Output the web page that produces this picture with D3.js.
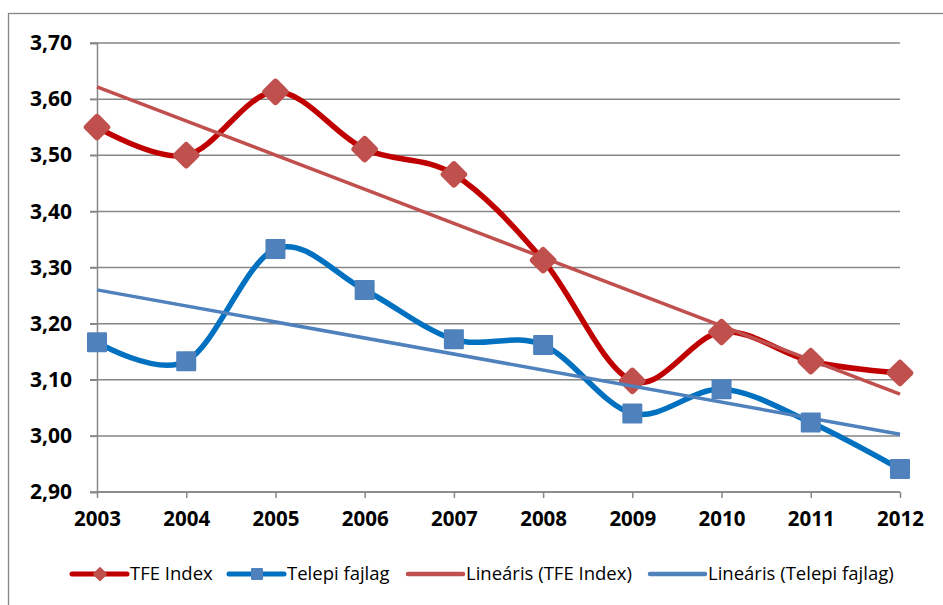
<!DOCTYPE html>
<html>
<head>
<meta charset="utf-8">
<script src="https://cdn.jsdelivr.net/npm/d3@7"></script>
<style>
  html, body { margin: 0; padding: 0; background: #fff; }
  svg { display: block; }
</style>
</head>
<body>
<svg id="chart" width="943" height="605"></svg>
<script>
// data
const years = ["2003", "2004", "2005", "2006", "2007", "2008", "2009", "2010", "2011", "2012"];
const tfeIndex = [3.55, 3.50, 3.613, 3.511, 3.466, 3.313, 3.098, 3.185, 3.133, 3.112];
const telepiFajlag = [3.167, 3.133, 3.333, 3.26, 3.172, 3.162, 3.04, 3.083, 3.024, 2.941];
const yTicks = [2.9, 3.0, 3.1, 3.2, 3.3, 3.4, 3.5, 3.6, 3.7];
const legendLabels = ["TFE Index", "Telepi fajlag", "Lineáris (TFE Index)", "Lineáris (Telepi fajlag)"];

const gridColor = "#868686";
const font = "'Open Sans', 'Liberation Sans', sans-serif";

const svg = d3.select("#chart");

// chart frame (runs off the right and bottom edge like the screenshot)
svg.append("rect")
  .attr("x", 8.5).attr("y", 13.5)
  .attr("width", 1000).attr("height", 700)
  .attr("fill", "none")
  .attr("stroke", gridColor)
  .attr("stroke-width", 1.3);

const x = d3.scalePoint().domain(years).range([97, 900]);
const y = d3.scaleLinear().domain([2.9, 3.7]).range([492, 43]);

// gridlines
svg.append("g")
  .selectAll("line")
  .data(yTicks)
  .enter()
  .append("line")
  .attr("x1", 90).attr("x2", 900)
  .attr("y1", d => y(d)).attr("y2", d => y(d))
  .attr("stroke", gridColor)
  .attr("stroke-width", 1.5);

// y axis
const yAxis = svg.append("g")
  .attr("transform", "translate(97,0)")
  .call(d3.axisLeft(y).tickValues(yTicks).tickSize(7).tickPadding(18)
    .tickFormat(d => d3.format(".2f")(d).replace(".", ",")));
yAxis.select(".domain").attr("stroke", gridColor).attr("stroke-width", 1.5);
yAxis.selectAll(".tick line").attr("stroke", gridColor).attr("stroke-width", 1.5);
yAxis.selectAll("text")
  .attr("font-family", font).attr("font-weight", "bold")
  .attr("font-size", "21px").attr("fill", "#000");

// x axis
const xAxis = svg.append("g")
  .attr("transform", "translate(0,492)")
  .call(d3.axisBottom(x).tickSize(6).tickPadding(13));
xAxis.select(".domain").attr("stroke", gridColor).attr("stroke-width", 1.5)
  .attr("d", "M97,0H900");
xAxis.selectAll(".tick line").attr("stroke", gridColor).attr("stroke-width", 1.5);
xAxis.selectAll("text")
  .attr("font-family", font).attr("font-weight", "bold")
  .attr("font-size", "20.5px").attr("fill", "#000");

// linear trend (least squares), like Excel's trendline
function trend(values) {
  const n = values.length;
  const mx = (n - 1) / 2;
  const my = d3.mean(values);
  let num = 0, den = 0;
  values.forEach((v, i) => { num += (i - mx) * (v - my); den += (i - mx) * (i - mx); });
  const b = num / den;
  const a = my - b * mx;
  return [[0, a], [n - 1, a + b * (n - 1)]];
}

const smooth = d3.line()
  .curve(d3.curveCatmullRom.alpha(0))
  .x((d, i) => x(years[i]))
  .y(d => y(d));

const series = [
  { values: tfeIndex, line: "#C00000", marker: "#C0504D", trend: "#C0504D", shape: "diamond" },
  { values: telepiFajlag, line: "#0070C0", marker: "#4F81BD", trend: "#4F81BD", shape: "square" }
];

// smoothed data lines
svg.append("g")
  .selectAll("path")
  .data(series)
  .enter()
  .append("path")
  .attr("d", s => smooth(s.values))
  .attr("fill", "none")
  .attr("stroke", s => s.line)
  .attr("stroke-width", 5.5)
  .attr("stroke-linecap", "round");

// markers
function drawMarker(g, shape, color, size) {
  if (shape === "diamond") {
    const side = size / Math.SQRT2;
    g.append("rect")
      .attr("x", -side / 2).attr("y", -side / 2)
      .attr("width", side).attr("height", side)
      .attr("rx", side * 0.15)
      .attr("transform", "rotate(45)")
      .attr("fill", color);
  } else {
    g.append("rect")
      .attr("x", -size / 2).attr("y", -size / 2)
      .attr("width", size).attr("height", size)
      .attr("rx", 1)
      .attr("fill", color);
  }
}

series.forEach(s => {
  s.values.forEach((v, i) => {
    const g = svg.append("g").attr("transform", `translate(${x(years[i])},${y(v)})`);
    drawMarker(g, s.shape, s.marker, s.shape === "diamond" ? 29 : 20);
  });
});

// trendlines
svg.append("g")
  .selectAll("line")
  .data(series)
  .enter()
  .append("line")
  .each(function (s) {
    const [p0, p1] = trend(s.values);
    d3.select(this)
      .attr("x1", x(years[p0[0]])).attr("y1", y(p0[1]))
      .attr("x2", x(years[p1[0]])).attr("y2", y(p1[1]));
  })
  .attr("stroke", s => s.trend)
  .attr("stroke-width", 3.5);

// legend
const legendItems = [
  { label: legendLabels[0], x: 72, color: "#C00000", marker: "#C0504D", shape: "diamond" },
  { label: legendLabels[1], x: 229, color: "#0070C0", marker: "#4F81BD", shape: "square" },
  { label: legendLabels[2], x: 408, color: "#C0504D", marker: null },
  { label: legendLabels[3], x: 650, color: "#4F81BD", marker: null }
];
const legendY = 574;
const legend = svg.append("g");
legendItems.forEach(d => {
  const g = legend.append("g").attr("transform", `translate(${d.x},${legendY})`);
  g.append("line")
    .attr("x1", 0).attr("x2", 55)
    .attr("stroke", d.color)
    .attr("stroke-width", d.marker ? 5 : 4.5)
    .attr("stroke-linecap", "round");
  if (d.marker) {
    const m = g.append("g").attr("transform", "translate(28,0)");
    drawMarker(m, d.shape, d.marker, d.shape === "diamond" ? 15 : 12);
  }
  g.append("text")
    .attr("x", 58)
    .attr("dy", "0.35em")
    .attr("font-family", font)
    .attr("font-size", "18.5px")
    .attr("textLength", null)
    .attr("fill", "#000")
    .text(d.label);
});
</script>
</body>
</html>
